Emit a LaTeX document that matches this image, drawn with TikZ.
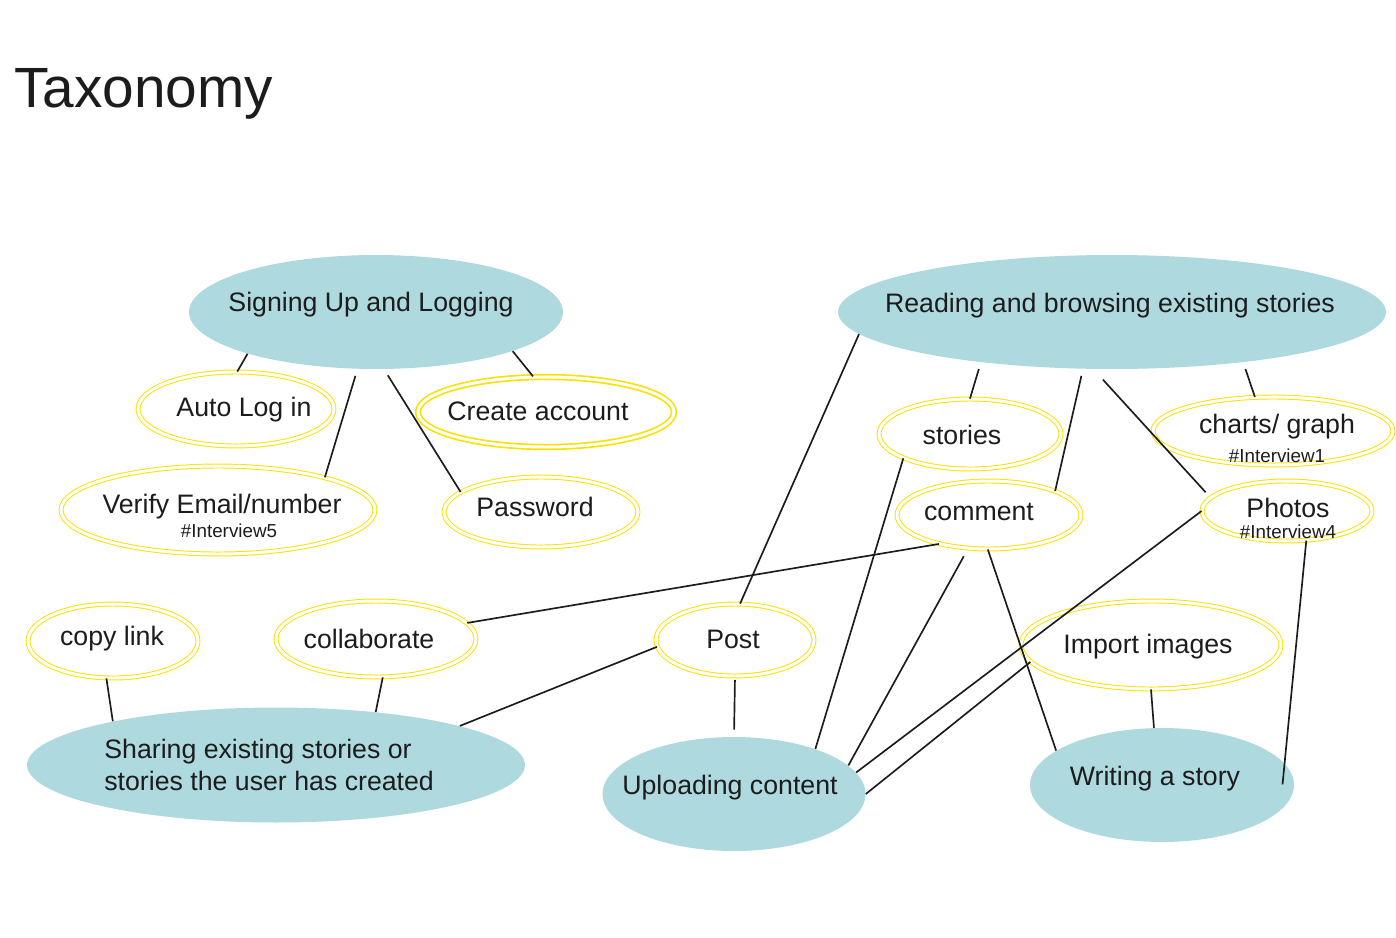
\documentclass[tikz,border=0pt]{standalone}
\usepackage{fontspec}
\setmainfont{Liberation Sans}
\usetikzlibrary{shapes.geometric}
\definecolor{tealfill}{RGB}{174,217,222}
\definecolor{ylw}{RGB}{250,226,0}
\definecolor{ink}{RGB}{28,28,28}
\tikzset{
  bigell/.style={ellipse, fill=tealfill, draw=none, inner sep=0pt},
  smallell/.style={ellipse, draw=ylw, line width=0.55pt, double=white, double distance=1.7pt, inner sep=0pt},
  lbl/.style={inner sep=0pt, text=ink, font=\fontsize{15.2}{18}\selectfont},
  sublbl/.style={inner sep=0pt, text=ink, font=\fontsize{10.7}{12}\selectfont},
  conn/.style={draw=ink, line width=0.95pt}
}
\begin{document}
\begin{tikzpicture}[x=0.02cm,y=-0.02cm]
\useasboundingbox (0,0) rectangle (1396,937);
% title
\node[anchor=base west, inner sep=0pt, text=ink, font=\fontsize{32.3}{38}\selectfont] (title) at (14,107) {Taxonomy};

% main ellipses
\node[bigell, minimum width=74.8mm, minimum height=22.8mm] (sign) at (376,312) {};
\node[bigell, minimum width=109.6mm, minimum height=22.8mm] (read) at (1112,312) {};
\node[bigell, minimum width=99.6mm, minimum height=23mm] (share) at (276,765) {};
\node[bigell, minimum width=52.6mm, minimum height=22.8mm] (upl) at (734,794) {};
\node[bigell, minimum width=52.8mm, minimum height=22.8mm] (write) at (1162,785) {};

% sub ellipses
\node[smallell, minimum width=39.2mm, minimum height=14.8mm] (auto) at (236,409) {};
\node[smallell, line width=0.95pt, minimum width=51.2mm, minimum height=14mm] (create) at (546,412) {};
\node[smallell, minimum width=62.8mm, minimum height=17.6mm] (verify) at (218,510) {};
\node[smallell, minimum width=38.8mm, minimum height=14mm] (pass) at (541,512) {};
\node[smallell, minimum width=36.4mm, minimum height=14mm] (stories) at (970,434) {};
\node[smallell, minimum width=48mm, minimum height=13.6mm] (charts) at (1273,431) {};
\node[smallell, minimum width=36.8mm, minimum height=13.6mm] (comment) at (989,515) {};
\node[smallell, minimum width=34mm, minimum height=12mm] (photos) at (1287,511) {};
\node[smallell, minimum width=34mm, minimum height=14.8mm] (copy) at (113,641) {};
\node[smallell, minimum width=40mm, minimum height=15.2mm] (collab) at (376,639) {};
\node[smallell, minimum width=31.6mm, minimum height=14.4mm] (post) at (735,640) {};
\node[smallell, minimum width=52mm, minimum height=17.6mm] (import) at (1151,645) {};

% connectors
\draw[conn] (sign.198) -- (auto.88);
\draw[conn] (sign.344) -- (create.110);
\draw[conn, shorten <=4pt] (sign.252) -- (verify.17.5);
\draw[conn, shorten <=4pt] (sign.278) -- (pass.166);
\draw[conn] (read.185) -- (post.82);
\draw[conn, shorten <=4pt] (read.201) -- (stories.90);
\draw[conn, shorten <=4pt] (read.243) -- (comment.20);
\draw[conn, shorten <=8pt, shorten >=4pt] (read.252) -- (photos.170);
\draw[conn, shorten <=4pt] (read.339) -- (charts.118);
\draw[conn] (comment.210) -- (collab.10);
\draw[conn] (stories.200) -- (upl.29);
\draw[conn, shorten <=5pt] (comment.238) -- (upl.14);
\draw[conn] (photos.180) -- (upl.10);
\draw[conn] (import.188) -- (upl.east);
\draw[conn] (comment.268) -- (write.162);
\draw[conn, shorten >=-12pt] (photos.303) -- (write.10);
\draw[conn] (import.270) -- (write.98);
\draw[conn] (post.185) -- (share.12);
\draw[conn, shorten <=2pt, shorten >=4pt] (post.south) -- (upl.north);
\draw[conn] (copy.260) -- (share.165);
\draw[conn] (collab.280) -- (share.28);

% labels
\node[lbl] (tsign) at (371,305) {Signing Up and Logging};
\node[lbl] (tread) at (1110,306) {Reading and browsing existing stories};
\node[lbl, anchor=west, align=left] (tshare) at (104,765) {Sharing existing stories or\\stories the user has created};
\node[lbl] (tupl) at (730,788) {Uploading content};
\node[lbl] (twrite) at (1155,779) {Writing a story};
\node[lbl] (tauto) at (244,410) {Auto Log in};
\node[lbl] (tcreate) at (538,411) {Create account};
\node[lbl] (tverify) at (222,507) {Verify Email/number};
\node[sublbl] (tiv5) at (229,531) {\#Interview5};
\node[lbl] (tpass) at (535,507) {Password};
\node[lbl] (tstories) at (962,435) {stories};
\node[lbl] (tcharts) at (1277,427) {charts/ graph};
\node[sublbl] (tiv1) at (1277,456) {\#Interview1};
\node[lbl] (tcomment) at (979,512) {comment};
\node[lbl] (tphotos) at (1288,508) {Photos};
\node[sublbl] (tiv4) at (1288,532) {\#Interview4};
\node[lbl] (tcopy) at (112,639) {copy link};
\node[lbl] (tcollab) at (369,639) {collaborate};
\node[lbl] (tpost) at (733,639) {Post};
\node[lbl] (timport) at (1148,647) {Import images};
\end{tikzpicture}
\end{document}
